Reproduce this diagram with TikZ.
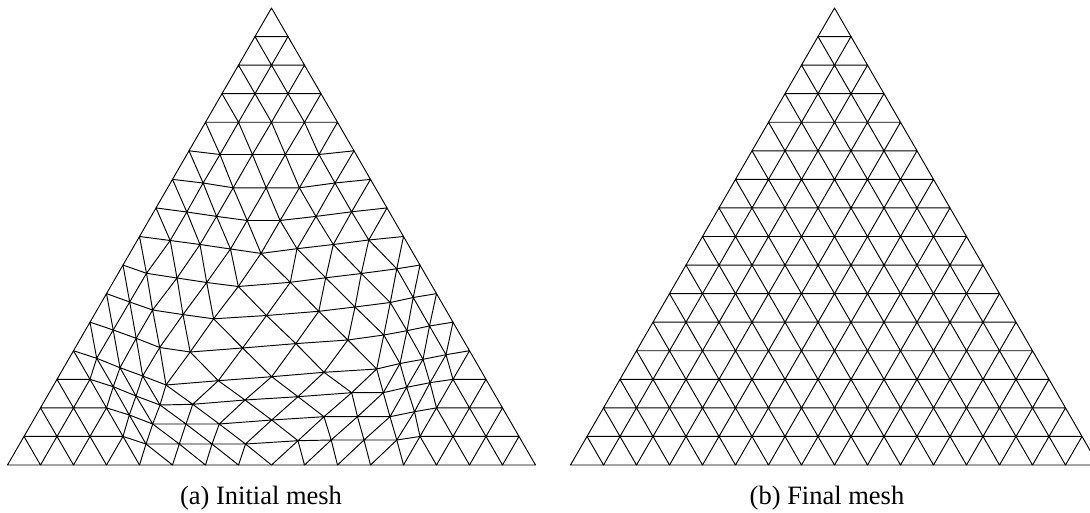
\documentclass[tikz,border=0pt]{standalone}
\usepackage{fontspec}
\setmainfont{Liberation Serif}

\begin{document}
\begin{tikzpicture}[
    x=1pt, y=-1pt,
    mesh/.style={draw, line width=0.95pt, line join=round},
    caption/.style={font=\fontsize{26.5}{30}\selectfont, anchor=base}
]
  \useasboundingbox (0,0) rectangle (1090,513);
  \clip (0,0) rectangle (1090,513);

  % Regular lattice, 16 divisions per side, for both meshes
  \foreach \j in {0,...,16}{
    \pgfmathtruncatemacro{\last}{16-\j}
    \foreach \i in {0,...,\last}{
      \coordinate (a-\i-\j) at ({7.5+33*(\i+0.5*\j)},{465-28.5625*\j});
      \coordinate (b-\i-\j) at ({570.5+33*(\i+0.5*\j)},{465-28.5625*\j});
    }
  }

  % Initial mesh: displaced interior nodes
  % Row 1
  \foreach \i/\x/\y in {4/146/444, 5/179.3/444, 6/212/444, 7/245.5/444,
      8/298/440.7, 9/331.2/440, 10/364/440, 11/396.8/440}
    \coordinate (a-\i-1) at (\x,\y);
  % Row 2
  \foreach \i/\x/\y in {3/129.3/415, 4/152.7/424, 5/186/424, 6/219.3/424,
      7/271.7/420, 8/324/416.7, 9/357.5/416.7, 10/390/416.7, 11/414.5/411.7}
    \coordinate (a-\i-2) at (\x,\y);
  % Row 3
  \foreach \i/\x/\y in {2/113.3/386.7, 3/136/396, 4/160/405, 5/192.7/404.3,
      6/245/400, 7/298/396.7, 8/351.7/392.7, 9/383.3/392.7, 10/406.7/387.3,
      11/430/382.7}
    \coordinate (a-\i-3) at (\x,\y);
  % Row 4
  \foreach \i/\x/\y in {1/96.7/358.3, 2/120/367.7, 3/142.7/376, 4/166/385,
      5/218.3/380.7, 6/271.7/376.7, 7/324/372.3, 8/376.7/369, 9/400/363.5,
      10/423/359.3, 11/446/354.7}
    \coordinate (a-\i-4) at (\x,\y);
  % Row 5
  \foreach \i/\x/\y in {1/113.2/330, 2/136.2/338.3, 3/159.7/347.5, 4/190.2/352,
      5/242.6/348, 6/295.8/343.6, 7/347.9/340, 8/383.8/335, 9/407/330.7,
      10/429.5/326}
    \coordinate (a-\i-5) at (\x,\y);
  % Row 6
  \foreach \i/\x/\y in {1/129.7/302, 2/152.6/310, 3/183/314.6, 4/213.6/318.8,
      5/266.5/315.5, 6/318.8/311.3, 7/355/307, 8/390.3/302.5, 9/413.2/297.5}
    \coordinate (a-\i-6) at (\x,\y);
  % Row 7
  \foreach \i/\x/\y in {1/146.5/273.3, 2/177/278, 3/206.7/282.5, 4/238.3/286.5,
      5/290.3/282.3, 6/325.7/277.8, 7/361.3/273.5, 8/396.8/268.8}
    \coordinate (a-\i-7) at (\x,\y);
  % Row 8
  \foreach \i/\x/\y in {1/170.2/240.5, 2/200/244.5, 3/230.5/249, 4/261/253.4,
      5/297/248.7, 6/333.3/244.5, 7/368.8/240}
    \coordinate (a-\i-8) at (\x,\y);
  % Row 9
  \foreach \i/\x/\y in {1/186.8/212, 2/216.6/216.4, 3/247.2/220.5,
      4/280.1/220.5, 5/316/216.4, 6/351.6/211.8}
    \coordinate (a-\i-9) at (\x,\y);
  % Row 10
  \foreach \i/\x/\y in {1/203.1/183, 2/233.2/187.8, 3/266.2/187.8,
      4/299.4/187.8, 5/335/183}
    \coordinate (a-\i-10) at (\x,\y);
  % Row 11
  \foreach \i/\x/\y in {1/220/154.5, 2/252.4/154.5, 3/285.3/154.5, 4/319/154.5}
    \coordinate (a-\i-11) at (\x,\y);

  % Elements: the upward triangles cover every edge once
  \foreach \j in {0,...,15}{
    \pgfmathtruncatemacro{\last}{15-\j}
    \pgfmathtruncatemacro{\up}{\j+1}
    \foreach \i in {0,...,\last}{
      \pgfmathtruncatemacro{\nx}{\i+1}
      \draw[mesh] (a-\i-\j) -- (a-\nx-\j) -- (a-\i-\up) -- cycle;
      \draw[mesh] (b-\i-\j) -- (b-\nx-\j) -- (b-\i-\up) -- cycle;
    }
  }

  % Captions
  \node[caption] (capa) at (261,504) {(a) Initial mesh};
  \node[caption] (capb) at (827,504) {(b) Final mesh};
\end{tikzpicture}
\end{document}
